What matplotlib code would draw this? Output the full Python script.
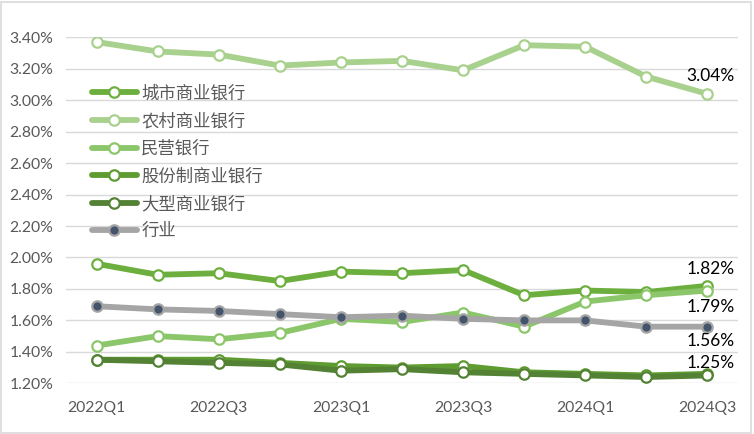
import matplotlib
matplotlib.use("Agg")
import matplotlib.pyplot as plt
from matplotlib.patches import Rectangle

plt.rcParams['font.family'] = ['Lato', 'Noto Sans CJK SC', 'DejaVu Sans']

quarters = ["2022Q1", "2022Q2", "2022Q3", "2022Q4", "2023Q1", "2023Q2",
            "2023Q3", "2023Q4", "2024Q1", "2024Q2", "2024Q3"]

city = [1.96, 1.89, 1.90, 1.85, 1.91, 1.90, 1.92, 1.76, 1.79, 1.78, 1.82]
rural = [3.37, 3.31, 3.29, 3.22, 3.24, 3.25, 3.19, 3.35, 3.34, 3.15, 3.04]
private = [1.44, 1.50, 1.48, 1.52, 1.61, 1.59, 1.65, 1.56, 1.72, 1.76, 1.79]
joint = [1.35, 1.35, 1.35, 1.33, 1.31, 1.30, 1.31, 1.27, 1.26, 1.25, 1.26]
large = [1.35, 1.34, 1.33, 1.32, 1.28, 1.29, 1.27, 1.26, 1.25, 1.24, 1.25]
industry = [1.69, 1.67, 1.66, 1.64, 1.62, 1.63, 1.61, 1.60, 1.60, 1.56, 1.56]

names = ["城市商业银行", "农村商业银行", "民营银行", "股份制商业银行", "大型商业银行", "行业"]
colors = ["#6DAF3E", "#A9D18E", "#8CC66A", "#5E9C32", "#548235", "#A5A5A5"]

fig = plt.figure(figsize=(7.54, 4.34), dpi=100)
ax = fig.add_axes([66 / 754, 1 - 383.3 / 434, (738 - 66) / 754, (383.3 - 37.3) / 434])

x = list(range(len(quarters)))
series = [city, rural, private, joint, large]
handles = []
for vals, name, c in zip(series, names[:5], colors[:5]):
    h, = ax.plot(x, vals, color=c, lw=4.2, solid_capstyle='round', solid_joinstyle='round',
                 marker='o', ms=7.5, mfc='white', mec=c, mew=1.6, label=name, zorder=3)
    handles.append(h)
h, = ax.plot(x, industry, color=colors[5], lw=4.2, solid_capstyle='round', solid_joinstyle='round',
             marker='o', ms=7.5, mfc='#44546A', mec=colors[5], mew=1.6, label=names[5], zorder=4)
handles.append(h)

# end labels
lab_kw = dict(ha='center', va='center', fontsize=12.5, color='black', zorder=5)
ax.annotate(f"{rural[-1]:.2f}%", (x[-1], rural[-1]), xytext=(3, 18), textcoords='offset pixels', **lab_kw)
ax.annotate(f"{city[-1]:.2f}%", (x[-1], city[-1]), xytext=(3, 17), textcoords='offset pixels', **lab_kw)
ax.annotate(f"{private[-1]:.2f}%", (x[-1], private[-1]), xytext=(3, -16), textcoords='offset pixels', **lab_kw)
ax.annotate(f"{industry[-1]:.2f}%", (x[-1], industry[-1]), xytext=(3, -14), textcoords='offset pixels', **lab_kw)
ax.annotate(f"{large[-1]:.2f}%", (x[-1], large[-1]), xytext=(3, 12), textcoords='offset pixels', **lab_kw)

ax.set_xlim(-0.5, len(quarters) - 0.5)
ax.set_ylim(1.2, 3.4)
yt = [1.2 + 0.2 * i for i in range(12)]
ax.set_yticks(yt)
ax.set_yticklabels([f"{v:.2f}%" for v in yt])
ax.set_xticks(x[::2])
ax.set_xticklabels(quarters[::2])
ax.tick_params(length=0, labelsize=11.3, colors='#595959')
ax.tick_params(axis='x', pad=13)
ax.tick_params(axis='y', pad=9)
ax.grid(axis='y', color='#D9D9D9', lw=1.0, zorder=0)
ax.set_axisbelow(True)
for s in ax.spines.values():
    s.set_visible(False)

ax.legend(handles=handles, loc='upper left', bbox_to_anchor=(91.7 / 754, 1 - 85 / 434),
          bbox_transform=fig.transFigure, frameon=False, fontsize=12.5, labelcolor='#595959',
          handlelength=2.6, handletextpad=0.25, borderpad=0, borderaxespad=0, labelspacing=0.64)

fig.patches.append(Rectangle((0.5 / 754, 1.5 / 434), 750 / 754, 431 / 434, transform=fig.transFigure,
                             fill=False, ec='#D9D9D9', lw=1.2))

fig.savefig("out.png", dpi=100)
